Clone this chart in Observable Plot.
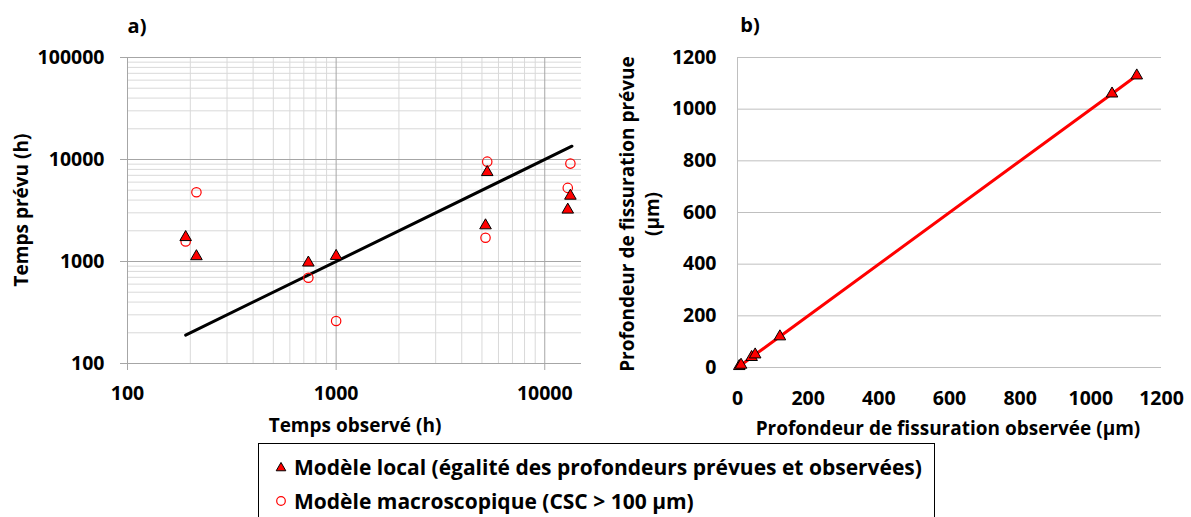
<!DOCTYPE html>
<html><head><meta charset="utf-8">
<script src="https://cdn.jsdelivr.net/npm/d3@7"></script>
<script src="https://cdn.jsdelivr.net/npm/@observablehq/plot@0.6"></script>
<style>
html,body{margin:0;padding:0;background:#fff;}
body{width:1191px;height:517px;position:relative;overflow:hidden;font-family:"Open Sans",sans-serif;font-weight:700;color:#000;}
.abs{position:absolute;}
.lbl{position:absolute;font-size:19px;font-weight:700;white-space:nowrap;transform:translate(-50%,-50%);line-height:25px;text-align:center;}
.rot{transform:translate(-50%,-50%) rotate(-90deg);}
.panel{position:absolute;font-size:20px;font-weight:700;transform:translate(-50%,-50%);}
#legend{position:absolute;left:258px;top:443px;width:677px;height:90px;border:1px solid #000;box-sizing:border-box;background:#fff;}
.row{position:absolute;left:0;height:28px;line-height:28px;font-size:21px;white-space:nowrap;}
.row svg{position:absolute;left:14px;top:7px;}
.row span{position:absolute;left:35px;top:0;}
svg text{font-family:"Open Sans",sans-serif;}
[aria-label^="x-axis"] line,[aria-label^="y-axis"] line,[aria-label="x-axis tick"] path,[aria-label="y-axis tick"] path{stroke:#a6a6a6;}
</style></head><body>
<div id="a" class="abs" style="left:0;top:0"></div>
<div id="b" class="abs" style="left:600px;top:0"></div>
<div class="panel" style="left:137px;top:25px">a)</div>
<div class="panel" style="left:750px;top:24px">b)</div>
<div class="lbl" style="left:355px;top:425px">Temps observé (h)</div>
<div class="lbl rot" style="left:21px;top:210px">Temps prévu (h)</div>
<div class="lbl" style="left:948px;top:428px">Profondeur de fissuration observée (µm)</div>
<div class="lbl rot" style="left:640px;top:214px">Profondeur de fissuration prévue<br>(µm)</div>
<div id="legend">
  <div class="row" style="top:9px"><svg width="16" height="14" id="sw1"></svg><span>Modèle local (égalité des profondeurs prévues et observées)</span></div>
  <div class="row" style="top:43px"><svg width="16" height="14" id="sw2"></svg><span>Modèle macroscopique (CSC &gt; 100 µm)</span></div>
</div>
<script>
// ---- Data: panel a) times (h)
const obsTimes  = [190, 214, 736, 1000, 5300, 5200, 13270, 12890];
const localPred = [1730, 1123, 973, 1130, 7500, 2255, 4400, 3215];
const macroPred = [1575, 4775, 693, 261, 9530, 1710, 9120, 5270];
const identityEnds = [190, 13500];
const xTicksA = [100, 1000, 10000];
const yTicksA = [100, 1000, 10000, 100000];
// ---- Data: panel b) crack depths (µm)
const depthObs  = [5, 10, 40, 50, 120, 1060, 1130];
const depthPred = [5, 10, 40, 50, 120, 1060, 1130];
const ticksB = [0, 200, 400, 600, 800, 1000, 1200];

const minorX = [], minorY = [];
for (const d of [100, 1000, 10000]) for (let m = 2; m <= 9; m++) { if (d*m <= 15000) minorX.push(d*m); }
for (const d of [100, 1000, 10000]) for (let m = 2; m <= 9; m++) minorY.push(d*m);

const styleBase = {fontFamily: "Open Sans", fontSize: "19.5px", fontWeight: "bold", background: "transparent", overflow: "visible", color: "black"};

const chartA = Plot.plot({
  width: 600, height: 440,
  marginLeft: 127, marginRight: 19, marginTop: 57, marginBottom: 77,
  style: styleBase,
  x: {type: "log", domain: [100, 15000], ticks: xTicksA, tickFormat: d => String(d), tickSize: 7, tickPadding: 16, label: null},
  y: {type: "log", domain: [100, 100000], ticks: yTicksA, tickFormat: d => String(d), tickSize: 7, tickPadding: 16, label: null},
  marks: [
    Plot.ruleX(minorX, {stroke: "#d9d9d9"}),
    Plot.ruleY(minorY, {stroke: "#d9d9d9"}),
    Plot.ruleX(xTicksA, {stroke: "#a6a6a6"}),
    Plot.ruleY(yTicksA, {stroke: "#a6a6a6"}),
    Plot.line(identityEnds, {x: d => d, y: d => d, stroke: "black", strokeWidth: 3}),
    Plot.dot(obsTimes, {x: d => d, y: (d, i) => macroPred[i], r: 4.7, stroke: "red", fill: "none", strokeWidth: 1.2}),
    Plot.dot(obsTimes, {x: d => d, y: (d, i) => localPred[i], symbol: "triangle", r: 4.3, fill: "red", stroke: "black", strokeWidth: 1})
  ]
});
document.getElementById("a").appendChild(chartA);

const chartB = Plot.plot({
  width: 591, height: 440,
  marginLeft: 137, marginRight: 30, marginTop: 57, marginBottom: 73,
  style: styleBase,
  x: {domain: [0, 1200], ticks: ticksB, tickFormat: d => String(d), tickSize: 0, tickPadding: 24, label: null},
  y: {domain: [0, 1200], ticks: ticksB, tickFormat: d => String(d), tickSize: 0, tickPadding: 21, label: null},
  marks: [
    Plot.ruleY(ticksB, {stroke: "#bfbfbf"}),
    Plot.ruleX([0], {stroke: "#bfbfbf"}),
    Plot.line(depthObs, {x: d => d, y: (d, i) => depthPred[i], stroke: "red", strokeWidth: 3}),
    Plot.dot(depthObs, {x: d => d, y: (d, i) => depthPred[i], symbol: "triangle", r: 4.3, fill: "red", stroke: "black", strokeWidth: 1})
  ]
});
document.getElementById("b").appendChild(chartB);

// legend swatches
const sw1 = d3.select("#sw1");
sw1.append("path").attr("transform", "translate(8,8)").attr("d", d3.symbol(d3.symbolTriangle, 40)()).attr("fill", "red").attr("stroke", "black");
const sw2 = d3.select("#sw2");
sw2.append("circle").attr("cx", 8).attr("cy", 7).attr("r", 4.3).attr("fill", "none").attr("stroke", "red").attr("stroke-width", 1.2);
</script>
</body></html>
